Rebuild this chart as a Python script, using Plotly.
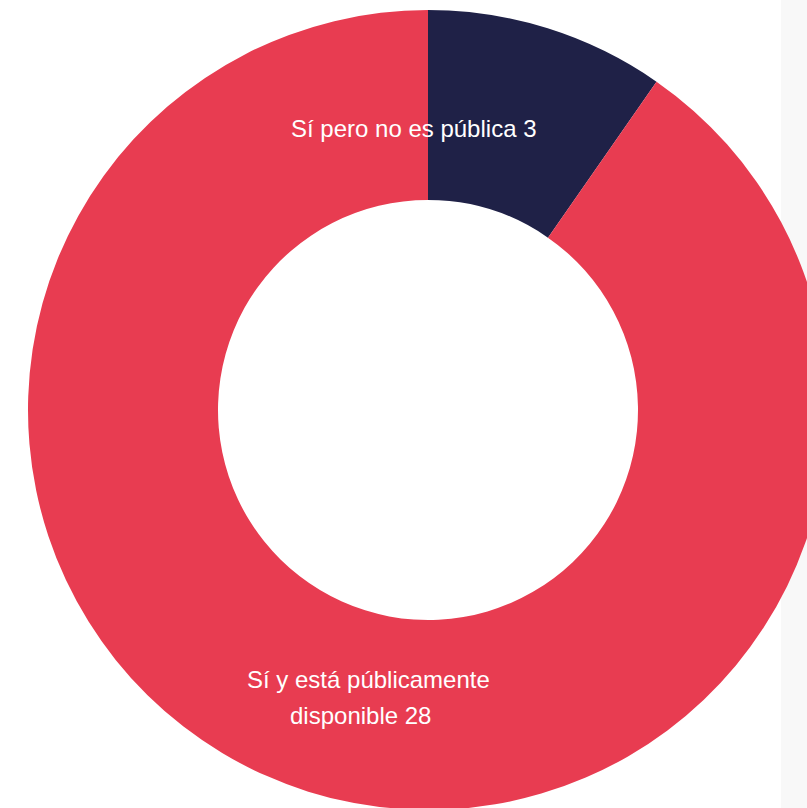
import plotly.graph_objects as go

# Data
labels = ["Sí pero no es pública", "Sí y está públicamente disponible"]
values = [3, 28]
colors = ["#1f2147", "#e83c51"]

W, H = 856, 820

fig = go.Figure()
fig.add_trace(go.Pie(
    labels=labels,
    values=values,
    hole=0.525,
    sort=False,
    direction="clockwise",
    rotation=0,
    marker=dict(colors=colors, line=dict(width=0)),
    textinfo="none",
    hoverinfo="label+value",
    showlegend=False,
    domain=dict(x=[0, 1], y=[10 / H, 1 - 10 / H]),
))

font = dict(family="Liberation Sans, Arial, sans-serif", size=24, color="#ffffff")

# Slice labels
t1 = f"{labels[0]} {values[0]}"
words = labels[1].split(" ")
t2a = " ".join(words[:-1])
t2b = f"{words[-1]} {values[1]}"

ann = [
    dict(text=t1, x=414 / W, y=1 - 128 / H),
    dict(text=t2a, x=368 / W, y=1 - 679 / H),
    dict(text=t2b, x=360 / W, y=1 - 715 / H),
]
for a in ann:
    fig.add_annotation(xref="paper", yref="paper", xanchor="center", yanchor="middle",
                       showarrow=False, font=font, **a)

fig.add_shape(type="rect", xref="paper", yref="paper", x0=781 / W, x1=1, y0=0, y1=1,
              fillcolor="#f8f8f8", line=dict(width=0), layer="below")

fig.update_layout(
    width=W, height=H,
    margin=dict(l=0, r=0, t=0, b=0),
    paper_bgcolor="#ffffff",
    plot_bgcolor="#ffffff",
)

fig.write_html("out.html", config={"displayModeBar": False},
               post_script="document.documentElement.style.overflow='hidden';document.body.style.overflow='hidden';document.body.style.margin='0';")
